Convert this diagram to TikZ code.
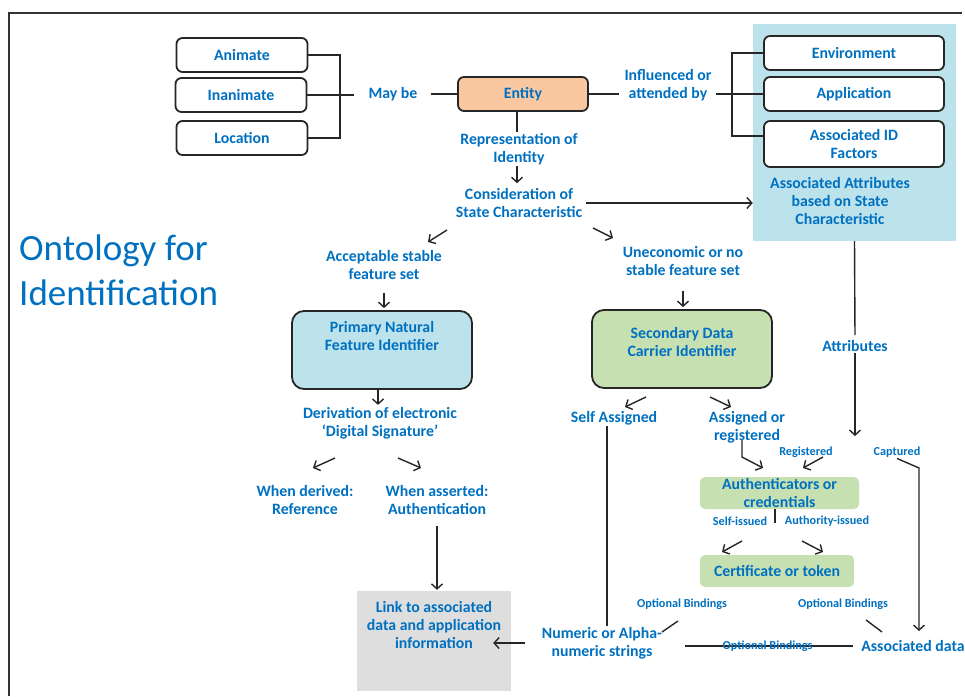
\documentclass[tikz,border=0pt]{standalone}
\usepackage{fontspec}
\setmainfont{Carlito}
\usetikzlibrary{arrows.meta}
\definecolor{idblue}{RGB}{0,112,192}
\definecolor{entityor}{RGB}{250,200,160}
\definecolor{attrblue}{RGB}{188,226,236}
\definecolor{carriergreen}{RGB}{198,224,178}
\definecolor{linkgray}{RGB}{222,222,222}
\definecolor{framec}{RGB}{50,50,50}

\begin{document}
\begin{tikzpicture}[x=1pt,y=-1pt,
  lbl/.style={text=idblue, font=\bfseries\fontsize{15.8}{18}\selectfont, align=center, inner sep=1pt},
  small/.style={text=idblue, font=\bfseries\fontsize{12.2}{13}\selectfont, inner sep=1pt},
  title/.style={text=idblue, font=\fontsize{37}{45}\selectfont, align=left, inner sep=0pt},
  wbox/.style={lbl, draw=black!85, line width=1.8pt, rounded corners=6pt, fill=white,
    minimum width=131pt, minimum height=34pt},
  bigbox/.style={lbl, draw=black!85, line width=1.8pt, rounded corners=12pt,
    minimum width=180pt, minimum height=78pt},
  gbox/.style={lbl, fill=carriergreen, rounded corners=5pt, inner ysep=0pt, minimum height=32pt},
  ln/.style={line width=1.4pt, black!85},
  arr/.style={ln, -{Straight Barb[length=5pt,width=11pt]}}]

\useasboundingbox (0,0) rectangle (965,696);

% frame of the figure
\draw[framec, line width=1.5pt] (9,696) -- (9,13) -- (962,13);

% title
\node[title, anchor=west] (title) at (19,270) {Ontology for\\Identification};

% background of the attribute group
\node[fill=attrblue, minimum width=203pt, minimum height=217pt, inner sep=0pt] (attrbg) at (854.5,132.5) {};

% what an entity may be
\node[wbox] (animate) at (242,55) {Animate};
\node[wbox] (inanimate) at (241,95) {Inanimate};
\node[wbox] (location) at (242,138) {Location};
\node[lbl] (maybe) at (393,94) {May be};
\node[wbox, fill=entityor, minimum width=130pt] (entity) at (523,94) {Entity};
\coordinate (jl) at (340,95);
\draw[ln] (animate.east) -| (jl);
\draw[ln] (location.east) -| (jl);
\draw[ln, shorten >=13pt] (inanimate.east) -- (inanimate.east -| maybe.west);
\draw[ln, shorten <=12pt] (maybe.east) -- (entity.west);

% what influences it
\node[lbl] (influ) at (668,85) {Influenced or\\attended by};
\node[wbox, minimum width=180pt] (environment) at (854,53) {Environment};
\node[wbox, minimum width=180pt] (application) at (854,94) {Application};
\node[wbox, minimum width=180pt, minimum height=46pt] (associd) at (854,144) {Associated ID\\Factors};
\node[lbl] (attrtxt) at (840,201) {Associated Attributes\\based on State\\Characteristic};
\coordinate (jr) at (732,94);
\draw[ln, shorten >=4pt] (entity.east) -- (entity.east -| influ.west);
\draw[ln, shorten <=3pt] (influ.east |- jr) -- (application.west);
\draw[ln] (environment.west) -| (jr) |- ([yshift=8pt]associd.west);

% identity and state
\node[lbl] (repr) at (519,149) {Representation of\\Identity};
\node[lbl] (consid) at (519,203) {Consideration of\\State Characteristic};
\draw[ln] ([xshift=-6pt]entity.south) -- ([xshift=-6pt]entity.south |- repr.north);
\draw[arr, shorten >=4pt] ([xshift=-2pt]repr.south) -- ([xshift=-2pt]repr.south |- consid.north);
\draw[arr, shorten <=3pt] (consid.east) -- (consid.east -| attrbg.west);

% two branches
\coordinate (dl1) at (447,230);
\coordinate (dl2) at (428,242);
\coordinate (dr1) at (593,228);
\coordinate (dr2) at (613,238);
\draw[arr] (dl1) -- (dl2);
\draw[arr] (dr1) -- (dr2);
\node[lbl] (accept) at (384,265) {Acceptable stable\\feature set};
\node[lbl] (uneco) at (683,261) {Uneconomic or no\\stable feature set};

% primary identifier
\node[bigbox, fill=attrblue] (primary) at (382,350) {Primary Natural\\Feature Identifier\\[11pt]\mbox{}};
\draw[arr, shorten <=12pt, shorten >=2pt] (accept.south) -- (accept.south |- primary.north);
\node[lbl] (deriv) at (380,423) {Derivation of electronic\\‘Digital Signature’};
\draw[arr, shorten >=1pt] ([xshift=-4pt]primary.south) -- ([xshift=-4pt]primary.south |- deriv.north);
\coordinate (pl1) at (335,458);
\coordinate (pl2) at (313,468);
\coordinate (pr1) at (398,458);
\coordinate (pr2) at (421,468);
\draw[arr] (pl1) -- (pl2);
\draw[arr] (pr1) -- (pr2);
\node[lbl] (derived) at (305,500) {When derived:\\Reference};
\node[lbl] (asserted) at (437,500) {When asserted:\\Authentication};
\node[lbl, fill=linkgray, minimum width=154pt, minimum height=100pt] (link) at (434,641)
  {Link to associated\\data and application\\information\\[14pt]\mbox{}};
\draw[arr, shorten <=10pt, shorten >=1pt] (asserted.south) -- (asserted.south |- link.north);

% secondary identifier
\node[bigbox, fill=carriergreen] (secondary) at (682,349) {Secondary Data\\Carrier Identifier\\[-3pt]\mbox{}};
\draw[arr, shorten <=14pt, shorten >=2pt] (uneco.south) -- (uneco.south |- secondary.north);
\coordinate (sl1) at (646,397);
\coordinate (sl2) at (625,407);
\coordinate (sr1) at (710,397);
\coordinate (sr2) at (731,407);
\draw[arr] (sl1) -- (sl2);
\draw[arr] (sr1) -- (sr2);
\node[lbl] (selfas) at (614,418) {Self Assigned};
\node[lbl] (assigned) at (747,427) {Assigned or\\registered};
\node[lbl] (numeric) at (602,643) {Numeric or Alpha-\\numeric strings};
\draw[ln] ([xshift=-7pt]selfas.south) -- ([xshift=-7pt]selfas.south |- numeric.north);
\draw[arr, shorten <=16pt, shorten >=-18pt] (numeric.west) -- (numeric.west -| link.east);

% attributes
\node[lbl] (attrlbl) at (855,346) {Attributes};
\coordinate (attrend) at (855,436);
\draw[ln, shorten >=4pt] (attrbg.south) -- (attrlbl.north);
\draw[arr] (attrlbl.south) -- (attrend);
\node[small] (registered) at (806,452) {Registered};
\node[small] (captured) at (897,452) {Captured};

% authenticators and tokens
\node[gbox, minimum width=159pt] (auth) at (779.5,493) {Authenticators or\\credentials};
\coordinate (regtop) at (742,440);
\coordinate (regbend) at (742,457);
\coordinate (regend) at (763,468);
\draw[arr] (regtop) -- (regbend) -- (regend);
\coordinate (rg1) at (823,457);
\coordinate (rg2) at (803,468);
\draw[arr] (rg1) -- (rg2);
\coordinate (capbend) at (919,468);
\coordinate (capend) at (919,631);
\draw[arr] (captured.south) -- (capbend) -- (capend);
\coordinate (authtick) at (775,523);
\draw[ln] (auth.south -| authtick) -- (authtick);
\node[small] (selfiss) at (740,521) {Self-issued};
\node[small] (authiss) at (827,521) {Authority-issued};
\coordinate (cl1) at (742,541);
\coordinate (cl2) at (722,552);
\coordinate (cr1) at (802,541);
\coordinate (cr2) at (823,552);
\draw[arr] (cl1) -- (cl2);
\draw[arr] (cr1) -- (cr2);
\node[gbox, minimum width=154pt] (cert) at (777,571) {Certificate or token};

% bindings
\node[small] (optb1) at (682,604) {Optional Bindings};
\node[small] (optb2) at (843,604) {Optional Bindings};
\node[lbl] (assocdata) at (913,646) {Associated data};
\coordinate (bl1) at (678,621);
\coordinate (bl2) at (662,632);
\coordinate (br1) at (866,620);
\coordinate (br2) at (882,632);
\draw[ln] (bl1) -- (bl2);
\draw[ln] (br1) -- (br2);
\draw[ln, shorten <=22pt, shorten >=7pt] (numeric.east |- assocdata) -- node[small, pos=0.53] (optb3) {Optional Bindings} (assocdata.west);
\end{tikzpicture}
\end{document}
